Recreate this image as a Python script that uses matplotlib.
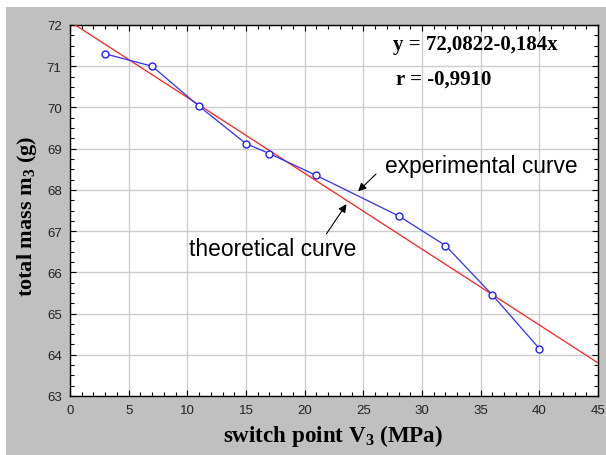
import matplotlib
matplotlib.use("Agg")
import matplotlib.pyplot as plt
from matplotlib.ticker import MultipleLocator
from matplotlib.patches import Rectangle

plt.rcParams['mathtext.fontset'] = 'custom'
plt.rcParams['mathtext.rm'] = 'Liberation Serif'
plt.rcParams['mathtext.bf'] = 'Liberation Serif:bold'

# Data
switch_point = [3, 7, 11, 15, 17, 21, 28, 32, 36, 40]
total_mass = [71.3, 71.0, 70.03, 69.12, 68.88, 68.35, 67.37, 66.65, 65.45, 64.15]
intercept = 72.0822
slope = -0.184
theory_x = [0, 45]
theory_y = [intercept + slope * x for x in theory_x]

x_ticks = [0, 5, 10, 15, 20, 25, 30, 35, 40, 45]
y_ticks = [63, 64, 65, 66, 67, 68, 69, 70, 71, 72]

W, H = 606, 456
fig = plt.figure(figsize=(W / 100, H / 100), dpi=100)
fig.patch.set_facecolor('white')
bg = Rectangle((6 / W, 0), 1 - 6 / W, 1 - 8 / H, transform=fig.transFigure,
               facecolor='#c0c0c0', edgecolor='none', zorder=-10)
fig.add_artist(bg)

ax = fig.add_axes([70 / W, 1 - 397 / H, 528 / W, 371 / H])
ax.set_zorder(1)
ax.set_facecolor('white')
ax.set_xlim(0, 45)
ax.set_ylim(63, 72)
ax.set_xticks(x_ticks)
ax.set_yticks(y_ticks)
ax.xaxis.set_minor_locator(MultipleLocator(1))
ax.yaxis.set_minor_locator(MultipleLocator(0.25))
ax.grid(True, which='major', color='#cccccc', linewidth=1.0)
ax.set_axisbelow(True)
ax.tick_params(which='both', direction='in', top=True, right=True, colors='black',
               labelcolor='#222222', labelsize=9.5, pad=6)
ax.tick_params(which='major', length=4, width=0.8)
ax.tick_params(which='minor', length=3, width=0.8)
for lab in ax.get_xticklabels() + ax.get_yticklabels():
    lab.set_fontfamily('Liberation Sans')
for s in ax.spines.values():
    s.set_color('black')
    s.set_linewidth(1.0)

ax.plot(theory_x, theory_y, color='#ff2020', linewidth=0.9, zorder=3)
ax.plot(switch_point, total_mass, color='#3030ff', linewidth=0.9, marker='o',
        markersize=5, markerfacecolor='white', markeredgecolor='#2020ff',
        markeredgewidth=1.0, zorder=4)

ax.text(27.53, 71.54, 'y = 72,0822-0,184x', fontfamily='Liberation Serif', fontweight='bold',
        fontsize=15, va='center', ha='left')
ax.text(27.78, 70.69, 'r = -0,9910', fontfamily='Liberation Serif', fontweight='bold',
        fontsize=15, va='center', ha='left')

ax.annotate('', xy=(24.38, 67.92), xytext=(26.25, 68.43),
            arrowprops=dict(arrowstyle='-|>', color='black', lw=0.8, mutation_scale=12))
ax.annotate('', xy=(23.69, 67.71), xytext=(21.73, 66.88),
            arrowprops=dict(arrowstyle='-|>', color='black', lw=0.8, mutation_scale=12))
ax.text(26.85, 68.58, 'experimental curve', fontfamily='Liberation Sans', fontsize=16.4,
        va='center', ha='left')
ax.text(10.14, 66.57, 'theoretical curve', fontfamily='Liberation Sans', fontsize=16.4,
        va='center', ha='left')

fig.text(333 / W, 1 - 436 / H, r'switch point V$_{\mathbf{3}}$ (MPa)', fontfamily='Liberation Serif',
         fontweight='bold', fontsize=16.6, ha='center', va='center')
fig.text(27 / W, 1 - 216 / H, r'total mass m$_{\mathbf{3}}$ (g)', fontfamily='Liberation Serif',
         fontweight='bold', fontsize=16, ha='center', va='center', rotation=90)

fig.savefig('out.png', dpi=100, facecolor=fig.get_facecolor())
